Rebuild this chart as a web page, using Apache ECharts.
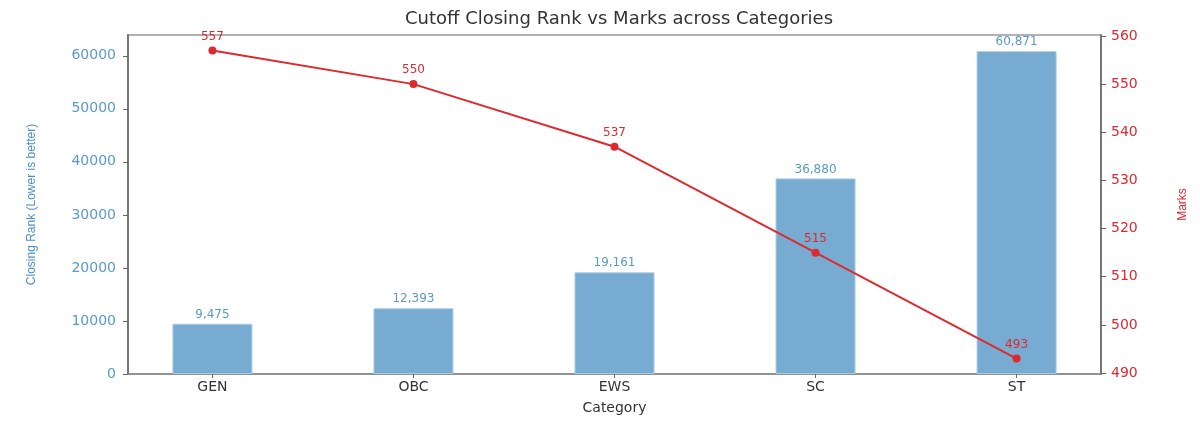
<!DOCTYPE html>
<html>
<head>
<meta charset="utf-8">
<script src="https://cdn.jsdelivr.net/npm/echarts@6/dist/echarts.min.js"></script>
<style>
  html, body { margin: 0; padding: 0; background: #fff; }
  #main { width: 1200px; height: 422px; }
</style>
</head>
<body>
<div id="main"></div>
<script>
var categories = ['GEN', 'OBC', 'EWS', 'SC', 'ST'];
var closingRank = [9475, 12393, 19161, 36880, 60871];
var marks = [557, 550, 537, 515, 493];
var marksTicks = [490, 500, 510, 520, 530, 540, 550, 560];
var catPos = [0, 1, 2, 3, 4];

var blue = '#5a9acb';
var red = '#dd2a2f';

var chart = echarts.init(document.getElementById('main'));

var option = {
    backgroundColor: '#fff',
    animation: false,
    title: {
        text: 'Cutoff Closing Rank vs Marks across Categories',
        left: 614,
        textAlign: 'center',
        top: 5,
        textStyle: { fontFamily: 'DejaVu Sans', fontSize: 18, fontWeight: 'normal', color: '#333' }
    },
    grid: {
        left: 128, right: 99, top: 35, bottom: 48,
        show: true, borderColor: '#999', borderWidth: 1.5
    },
    xAxis: {
        type: 'value',
        min: -0.42,
        max: 4.42,
        name: 'Category',
        nameLocation: 'middle',
        nameGap: 27,
        nameTextStyle: { fontFamily: 'DejaVu Sans', fontSize: 14, color: '#333' },
        axisLine: { show: true, onZero: false, lineStyle: { color: '#888', width: 1.5 } },
        axisTick: { show: true, length: 4, customValues: catPos, lineStyle: { color: '#666' } },
        axisLabel: {
            customValues: catPos,
            formatter: function (v) { return categories[v]; },
            fontFamily: 'DejaVu Sans', fontSize: 14, color: '#333', margin: 6
        },
        splitLine: { show: false }
    },
    yAxis: [
        {
            type: 'value',
            min: 0,
            max: 63915,
            interval: 10000,
            name: 'Closing Rank (Lower is better)',
            nameLocation: 'middle',
            nameGap: 90,
            nameTextStyle: { fontFamily: 'Liberation Sans', fontSize: 12, color: '#4a90c8' },
            axisLine: { show: true, onZero: false, lineStyle: { color: '#777', width: 2 } },
            axisTick: { show: true, length: 5, lineStyle: { color: '#666' } },
            axisLabel: {
                fontFamily: 'DejaVu Sans', fontSize: 14, color: blue, margin: 12,
                showMaxLabel: false,
                formatter: function (v) { return String(v); }
            },
            splitLine: { show: false }
        },
        {
            type: 'value',
            min: 489.8,
            max: 560.2,
            name: 'Marks',
            nameLocation: 'middle',
            nameGap: 76,
            nameTextStyle: { fontFamily: 'Liberation Sans', fontSize: 12, color: red },
            axisLine: { show: true, onZero: false, lineStyle: { color: '#777', width: 2 } },
            axisTick: { show: true, length: 5, customValues: marksTicks, lineStyle: { color: '#666' } },
            axisLabel: {
                customValues: marksTicks,
                fontFamily: 'DejaVu Sans', fontSize: 14, color: red, margin: 10
            },
            splitLine: { show: false }
        }
    ],
    series: [
        {
            name: 'Closing Rank',
            type: 'bar',
            barWidth: 80,
            data: closingRank.map(function (v, i) { return [catPos[i], v]; }),
            itemStyle: { color: '#77abd1', borderColor: '#a9cbe4', borderWidth: 1 },
            label: {
                show: true,
                position: 'top',
                distance: 3,
                color: blue,
                fontFamily: 'DejaVu Sans',
                fontSize: 12,
                formatter: function (p) { return p.value[1].toLocaleString('en-US'); }
            }
        },
        {
            name: 'Marks',
            type: 'line',
            yAxisIndex: 1,
            data: marks.map(function (v, i) { return [catPos[i], v]; }),
            lineStyle: { color: red, width: 2 },
            itemStyle: { color: red },
            symbol: 'circle',
            symbolSize: 8,
            label: {
                show: true,
                position: 'top',
                distance: 4,
                color: red,
                fontFamily: 'DejaVu Sans',
                fontSize: 12,
                formatter: function (p) { return p.value[1]; }
            },
            z: 3
        }
    ]
};

chart.setOption(option);
</script>
</body>
</html>
